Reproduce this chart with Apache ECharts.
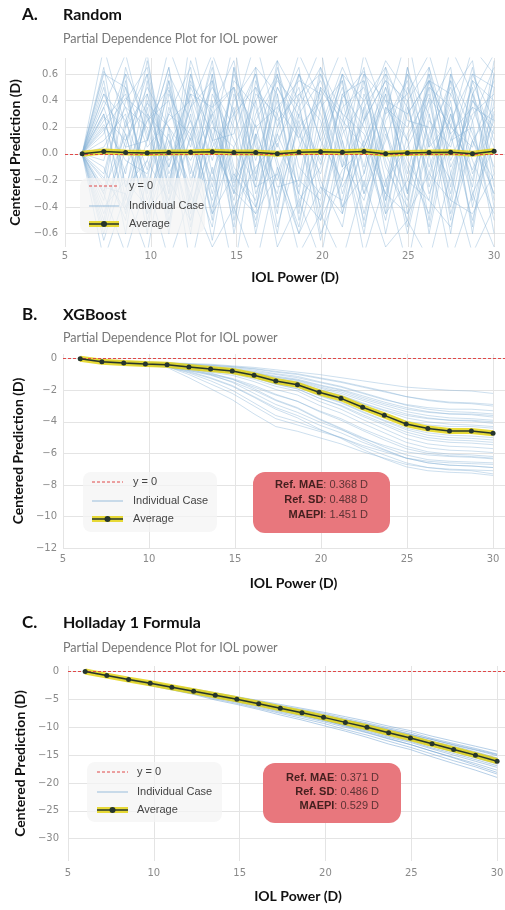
<!DOCTYPE html>
<html>
<head>
<meta charset="utf-8">
<script src="https://cdn.jsdelivr.net/npm/echarts/dist/echarts.min.js"></script>
<style>
	html, body { margin: 0; padding: 0; background: #fff; }
	#chart { width: 505px; height: 910px; }
</style>
</head>
<body>
<div id="chart"></div>
<script>
// IOL power grid shared by all three panels
const iolPower = [6.00, 7.26, 8.53, 9.79, 11.05, 12.32, 13.58, 14.84, 16.11, 17.37,
	18.63, 19.89, 21.16, 22.42, 23.68, 24.95, 26.21, 27.47, 28.74, 30.00];
const xTicks = [5, 10, 15, 20, 25, 30];
const yTicksRandom = [-0.6, -0.4, -0.2, 0, 0.2, 0.4, 0.6];
const yTicksXgb = [-12, -10, -8, -6, -4, -2, 0];
const yTicksHolladay = [-30, -25, -20, -15, -10, -5, 0];

const randomAverage = [0, 0.017, 0.01, 0.007, 0.01, 0.012, 0.015, 0.01, 0.01, 0, 0.012, 0.015, 0.012, 0.017, 0, 0.007, 0.01, 0.012, 0, 0.02];
const randomCases = [
	[0, 0.62, 0.35, -0.12, 0.48, 0.05, 0.7, -0.3, 0.22, -0.45, 0.6, 0.1, -0.2, 0.55, -0.35, 0.4, 0.65, -0.1, 0.3, 0.45],
	[0, -0.55, 0.2, 0.45, -0.3, 0.6, -0.15, 0.35, -0.6, 0.15, -0.25, 0.5, 0.3, -0.45, 0.2, -0.6, 0.1, 0.55, -0.3, 0.05],
	[0, 0.3, -0.4, 0.1, 0.65, -0.2, 0.25, -0.55, 0.4, 0.7, -0.35, -0.1, 0.6, 0.05, -0.5, 0.35, -0.2, 0.45, 0.7, -0.25],
	[0, -0.2, 0.55, -0.35, 0.15, -0.6, 0.45, 0.1, -0.25, 0.5, 0.2, -0.65, 0.15, 0.4, 0.65, -0.3, 0.5, -0.45, 0.1, 0.35],
	[0, 0.45, 0.05, 0.6, -0.45, 0.3, -0.5, 0.65, 0.05, -0.3, 0.45, 0.25, -0.4, -0.15, 0.5, 0.1, -0.55, 0.3, -0.2, 0.6],
	[0, -0.65, -0.1, 0.25, 0.4, -0.35, 0.6, -0.2, 0.5, -0.1, -0.55, 0.35, 0.55, -0.3, 0.1, 0.6, 0.3, -0.6, 0.45, -0.4],
	[0, 0.15, 0.6, -0.5, 0.05, 0.45, -0.05, 0.5, -0.4, 0.3, 0.65, -0.45, 0.2, 0.6, -0.1, -0.4, 0.55, 0.15, -0.5, 0.2],
	[0, -0.35, 0.4, 0.65, -0.15, 0.2, -0.65, 0.25, 0.6, -0.55, 0.05, 0.4, -0.3, 0.25, 0.55, -0.05, -0.35, 0.6, 0.25, -0.6],
	[0, 0.5, -0.25, -0.05, 0.55, -0.45, 0.35, 0.7, -0.15, 0.4, -0.3, 0.6, 0.05, -0.6, 0.35, 0.2, 0.6, -0.25, 0.55, 0.1],
	[0, -0.1, -0.5, 0.35, -0.55, 0.5, 0.15, -0.35, 0.3, 0.6, -0.1, -0.3, 0.45, 0.2, -0.25, 0.65, -0.1, 0.35, -0.55, 0.5],
	[0, 0.25, 0.45, -0.25, 0.3, 0.65, -0.4, 0.05, -0.5, 0.2, 0.5, -0.2, -0.55, 0.35, 0.6, -0.45, 0.25, 0.05, 0.65, -0.15],
	[0, -0.45, 0.1, 0.5, 0.2, -0.25, 0.55, -0.6, 0.15, -0.2, 0.35, 0.65, -0.05, -0.35, 0.3, 0.45, -0.6, 0.2, 0.05, 0.55],
	[0, 0.35, -0.15, 0.7, -0.1, 0.35, -0.3, 0.4, 0.65, -0.4, 0.25, -0.5, 0.35, 0.5, -0.2, 0.05, 0.4, -0.35, 0.6, 0.25],
	[0, 0.1, 0.3, -0.6, 0.45, 0.1, 0.65, -0.1, -0.35, 0.45, -0.5, 0.15, 0.6, -0.15, 0.45, -0.55, 0.15, 0.5, -0.05, -0.45],
	[0, -0.3, 0.65, 0.15, -0.4, 0.55, 0.05, 0.3, -0.2, 0.65, 0.1, -0.4, 0.25, 0.65, -0.45, 0.3, 0.55, -0.15, 0.4, 0.15],
	[0, 0.55, -0.35, 0.3, 0.1, -0.5, 0.4, -0.45, 0.55, 0.05, 0.6, 0.3, -0.25, 0.1, 0.5, -0.2, 0.35, 0.65, -0.4, 0.3],
	[0, -0.5, 0.25, -0.2, 0.6, 0.25, -0.2, 0.6, 0.1, -0.6, 0.3, 0.55, 0.1, -0.5, 0.25, 0.55, -0.3, 0.1, 0.5, -0.35],
	[0, 0.2, -0.6, 0.4, -0.25, 0.7, 0.25, -0.25, 0.45, 0.3, -0.4, 0.2, 0.65, 0.3, -0.6, 0.15, 0.45, -0.5, 0.25, 0.65],
	[0, 0.4, 0.15, -0.45, 0.35, -0.1, -0.55, 0.45, -0.05, 0.5, 0.15, -0.15, 0.4, -0.25, 0.6, 0.35, -0.15, 0.4, -0.6, 0.4],
	[0, -0.25, -0.3, 0.55, -0.5, 0.15, 0.5, 0.2, -0.55, 0.35, 0.55, 0.45, -0.45, 0.45, 0.0, -0.35, 0.6, -0.05, 0.35, -0.1],
	[0, 0.6, 0.5, 0.05, 0.25, 0.4, -0.25, 0.55, 0.35, -0.25, -0.2, 0.65, 0.3, 0.15, -0.3, 0.5, 0.05, 0.25, 0.6, 0.5],
	[0, -0.4, -0.2, -0.4, 0.1, -0.3, 0.3, -0.4, -0.1, 0.1, 0.4, -0.6, -0.2, 0.6, 0.4, -0.1, -0.45, 0.55, 0.15, -0.3],
	[0, 0.05, 0.35, 0.2, -0.35, 0.6, 0.1, 0.15, 0.6, -0.05, -0.6, 0.05, 0.5, -0.1, 0.65, 0.25, 0.2, -0.4, 0.4, 0.2],
	[0, -0.15, 0.5, -0.3, 0.55, -0.15, 0.6, -0.5, 0.25, 0.55, 0.35, -0.25, -0.35, 0.35, -0.4, 0.6, -0.25, 0.3, -0.35, 0.6],
	[0, 0.3, -0.45, 0.45, -0.05, 0.25, -0.45, 0.65, -0.3, 0.15, 0.6, 0.1, 0.55, -0.55, 0.15, -0.3, 0.65, 0.1, 0.2, -0.5],
	[0, -0.6, 0.05, 0.1, 0.65, -0.55, 0.2, 0.05, 0.4, -0.35, 0.2, 0.4, -0.1, 0.25, 0.55, 0.4, -0.5, 0.6, -0.15, 0.25],
	[0, 0.45, 0.25, 0.6, -0.2, 0.35, 0.55, -0.15, -0.45, 0.6, -0.2, -0.35, 0.45, 0.55, -0.05, -0.5, 0.3, -0.3, 0.55, 0.4],
	[0, 0.22, -0.05, -0.15, 0.3, 0.15, -0.35, 0.3, 0.5, 0.25, 0.45, 0.6, 0.2, -0.3, 0.35, 0.1, 0.5, 0.35, -0.25, 0.7],
	[0, -0.05, 0.6, 0.3, -0.6, 0.45, 0.35, 0.5, -0.25, -0.15, 0.3, -0.05, 0.6, 0.4, -0.35, 0.65, 0.1, -0.2, 0.45, 0.05],
	[0, 0.65, -0.25, 0.25, 0.5, -0.4, 0.1, -0.3, 0.65, 0.45, -0.45, 0.5, -0.4, 0.05, 0.45, -0.15, 0.55, 0.45, 0.1, -0.2],
	[0, 0.8, 0.2, 0.75, -0.3, 0.9, 0.1, 0.85, -0.2, 0.7, 0.4, 0.8, -0.1, 0.75, 0.3, 0.9, 0.05, 0.8, 0.45, 0.75],
	[0, -0.8, -0.3, -0.75, 0.2, -0.85, -0.1, -0.9, 0.15, -0.7, -0.35, -0.8, 0.1, -0.75, -0.2, -0.85, 0.0, -0.8, -0.3, -0.7],
	[0, 0.35, 0.75, 0.1, 0.8, 0.35, 0.75, 0.3, 0.85, 0.2, 0.75, 0.4, 0.8, 0.25, 0.7, 0.45, 0.75, 0.2, 0.8, 0.6],
	[0, -0.3, -0.75, -0.2, -0.8, -0.3, -0.7, -0.4, -0.85, -0.1, -0.75, -0.45, -0.8, -0.2, -0.7, -0.5, -0.8, -0.15, -0.75, -0.4],
	[0, 0.18, 0.42, 0.28, -0.1, 0.52, 0.32, -0.22, 0.12, 0.58, 0.28, -0.08, 0.42, 0.62, 0.18, -0.28, 0.42, 0.22, -0.12, 0.32],
	[0, -0.18, -0.42, -0.05, -0.35, 0.12, -0.45, -0.15, -0.4, 0.08, -0.3, -0.5, -0.12, 0.05, -0.45, -0.2, -0.35, -0.55, 0.1, -0.3],
	[0, 0.28, 0.1, 0.38, 0.2, -0.05, 0.3, 0.5, 0.2, 0.35, 0.12, 0.48, 0.25, 0.05, 0.4, 0.3, 0.55, 0.15, 0.35, 0.25],
	[0, -0.28, 0.15, -0.45, -0.2, -0.5, 0.05, -0.28, -0.45, -0.15, -0.6, -0.25, -0.45, 0.1, -0.3, -0.45, -0.15, -0.35, -0.45, -0.15]
];

const xgbAverage = [0, -0.19, -0.27, -0.34, -0.38, -0.53, -0.65, -0.78, -1.05, -1.41, -1.65, -2.13, -2.51, -3.08, -3.59, -4.14, -4.43, -4.58, -4.58, -4.73];
const xgbCases = [
	[0, -0.1, -0.15, -0.2, -0.25, -0.3, -0.35, -0.45, -0.55, -0.7, -0.85, -1.0, -1.2, -1.4, -1.6, -1.8, -1.9, -2.0, -2.05, -2.2],
	[0, -0.12, -0.18, -0.22, -0.27, -0.35, -0.42, -0.5, -0.65, -0.85, -1.0, -1.25, -1.5, -1.8, -2.1, -2.4, -2.6, -2.75, -2.8, -2.9],
	[0, -0.15, -0.2, -0.25, -0.3, -0.4, -0.5, -0.6, -0.8, -1.0, -1.2, -1.5, -1.8, -2.2, -2.6, -2.9, -3.1, -3.2, -3.2, -3.3],
	[0, -0.18, -0.25, -0.3, -0.33, -0.45, -0.55, -0.7, -0.9, -1.15, -1.35, -1.7, -2.0, -2.45, -2.85, -3.2, -3.4, -3.5, -3.5, -3.6],
	[0, -0.2, -0.27, -0.32, -0.36, -0.5, -0.6, -0.75, -1.0, -1.3, -1.5, -1.95, -2.3, -2.8, -3.25, -3.6, -3.8, -3.9, -3.9, -4.0],
	[0, -0.19, -0.26, -0.33, -0.37, -0.5, -0.62, -0.76, -1.02, -1.35, -1.58, -2.05, -2.42, -2.95, -3.45, -3.95, -4.2, -4.3, -4.3, -4.4],
	[0, -0.2, -0.28, -0.35, -0.4, -0.55, -0.68, -0.82, -1.1, -1.45, -1.7, -2.2, -2.6, -3.2, -3.7, -4.2, -4.5, -4.65, -4.7, -4.8],
	[0, -0.21, -0.29, -0.36, -0.41, -0.57, -0.7, -0.85, -1.15, -1.55, -1.8, -2.35, -2.8, -3.4, -3.95, -4.5, -4.85, -5.0, -5.05, -5.15],
	[0, -0.22, -0.3, -0.37, -0.42, -0.6, -0.75, -0.9, -1.2, -1.6, -1.9, -2.5, -3.0, -3.65, -4.2, -4.8, -5.15, -5.3, -5.35, -5.45],
	[0, -0.22, -0.31, -0.38, -0.43, -0.62, -0.78, -0.95, -1.3, -1.75, -2.05, -2.7, -3.2, -3.85, -4.45, -5.05, -5.4, -5.55, -5.6, -5.7],
	[0, -0.23, -0.32, -0.4, -0.45, -0.65, -0.85, -1.05, -1.45, -1.95, -2.3, -2.95, -3.45, -4.1, -4.7, -5.3, -5.65, -5.8, -5.85, -5.95],
	[0, -0.25, -0.33, -0.42, -0.5, -0.75, -1.0, -1.3, -1.8, -2.3, -2.7, -3.3, -3.8, -4.45, -5.0, -5.55, -5.9, -6.05, -6.1, -6.2],
	[0, -0.2, -0.3, -0.4, -0.5, -1.0, -1.6, -2.2, -3.0, -3.8, -4.2, -4.6, -5.0, -5.5, -5.9, -6.3, -6.5, -6.6, -6.65, -6.7],
	[0, -0.22, -0.32, -0.42, -0.55, -1.2, -1.9, -2.6, -3.5, -4.3, -4.6, -5.0, -5.4, -5.9, -6.3, -6.7, -6.9, -7.0, -7.05, -7.1],
	[0, -0.2, -0.3, -0.4, -0.48, -0.8, -1.2, -1.7, -2.4, -3.1, -3.6, -4.2, -4.7, -5.3, -5.8, -6.3, -6.6, -6.75, -6.8, -6.9],
	[0, -0.24, -0.34, -0.43, -0.5, -0.9, -1.4, -2.0, -2.8, -3.6, -4.0, -4.5, -5.0, -5.6, -6.1, -6.6, -6.9, -7.05, -7.1, -7.3],
	[0, -0.18, -0.26, -0.32, -0.38, -0.6, -0.9, -1.3, -1.9, -2.6, -3.1, -3.8, -4.4, -5.0, -5.6, -6.1, -6.4, -6.5, -6.55, -6.6],
	[0, -0.2, -0.28, -0.35, -0.4, -0.65, -1.0, -1.5, -2.2, -2.9, -3.4, -4.0, -4.5, -5.05, -5.5, -5.9, -6.1, -6.2, -6.25, -6.35],
	[0, -0.15, -0.22, -0.28, -0.32, -0.42, -0.52, -0.65, -0.85, -1.1, -1.3, -1.65, -1.95, -2.35, -2.75, -3.1, -3.35, -3.5, -3.55, -3.7],
	[0, -0.17, -0.24, -0.3, -0.35, -0.46, -0.57, -0.7, -0.95, -1.25, -1.45, -1.85, -2.2, -2.65, -3.1, -3.5, -3.75, -3.9, -3.95, -4.1],
	[0, -0.19, -0.27, -0.34, -0.38, -0.52, -0.64, -0.8, -1.08, -1.42, -1.65, -2.15, -2.55, -3.1, -3.6, -4.1, -4.35, -4.5, -4.55, -4.65],
	[0, -0.2, -0.28, -0.35, -0.39, -0.54, -0.66, -0.8, -1.1, -1.5, -1.75, -2.3, -2.75, -3.35, -3.9, -4.4, -4.7, -4.85, -4.9, -5.0],
	[0, -0.21, -0.3, -0.37, -0.42, -0.58, -0.72, -0.88, -1.2, -1.62, -1.92, -2.5, -2.95, -3.55, -4.1, -4.65, -5.0, -5.15, -5.2, -5.3],
	[0, -0.14, -0.2, -0.24, -0.28, -0.36, -0.44, -0.55, -0.72, -0.95, -1.12, -1.45, -1.75, -2.15, -2.55, -2.95, -3.2, -3.35, -3.4, -3.5],
	[0, -0.13, -0.19, -0.23, -0.27, -0.34, -0.4, -0.5, -0.62, -0.8, -0.95, -1.2, -1.45, -1.75, -2.05, -2.4, -2.65, -2.8, -2.85, -3.0],
	[0, -0.22, -0.32, -0.4, -0.46, -0.7, -0.95, -1.25, -1.7, -2.25, -2.7, -3.35, -3.9, -4.55, -5.15, -5.7, -6.0, -6.15, -6.2, -6.3],
	[0, -0.23, -0.33, -0.41, -0.48, -0.75, -1.05, -1.45, -2.0, -2.65, -3.15, -3.85, -4.45, -5.15, -5.75, -6.3, -6.6, -6.75, -6.8, -6.9],
	[0, -0.24, -0.35, -0.44, -0.52, -0.85, -1.25, -1.75, -2.45, -3.2, -3.75, -4.45, -5.05, -5.75, -6.35, -6.85, -7.1, -7.2, -7.25, -7.4],
	[0, -0.19, -0.27, -0.33, -0.38, -0.5, -0.6, -0.74, -0.98, -1.3, -1.52, -1.98, -2.35, -2.85, -3.3, -3.75, -4.0, -4.15, -4.2, -4.3],
	[0, -0.16, -0.23, -0.29, -0.33, -0.44, -0.55, -0.68, -0.9, -1.18, -1.38, -1.78, -2.1, -2.55, -2.95, -3.35, -3.6, -3.75, -3.8, -3.9]
];

const holladayAverage = [0, -0.72, -1.44, -2.1, -2.82, -3.54, -4.26, -4.98, -5.76, -6.6, -7.38, -8.22, -9.12, -10.0, -10.98, -11.94, -12.96, -13.98, -15.0, -16.08];
const holladayCases = [
	[0, -0.6, -1.3, -1.9, -2.5, -3.1, -3.8, -4.5, -5.2, -5.9, -6.6, -7.3, -8.1, -8.9, -9.8, -10.6, -11.6, -12.5, -13.4, -14.3],
	[0, -0.6, -1.3, -1.9, -2.6, -3.2, -4.0, -4.6, -5.3, -6.1, -6.8, -7.5, -8.4, -9.2, -10.1, -10.9, -12.0, -12.9, -13.8, -14.8],
	[0, -0.7, -1.3, -2.0, -2.6, -3.3, -4.0, -4.7, -5.5, -6.2, -7.0, -7.7, -8.6, -9.4, -10.3, -11.2, -12.2, -13.2, -14.1, -15.1],
	[0, -0.7, -1.4, -2.1, -2.8, -3.5, -4.2, -4.9, -5.7, -6.4, -7.1, -7.9, -8.7, -9.5, -10.4, -11.3, -12.2, -13.1, -14.0, -14.9],
	[0, -0.7, -1.3, -2.0, -2.7, -3.4, -4.1, -4.8, -5.6, -6.3, -7.1, -7.9, -8.7, -9.6, -10.6, -11.4, -12.5, -13.4, -14.4, -15.5],
	[0, -0.7, -1.4, -2.0, -2.7, -3.4, -4.2, -4.9, -5.6, -6.4, -7.2, -8.0, -8.8, -9.7, -10.7, -11.5, -12.6, -13.6, -14.6, -15.6],
	[0, -0.7, -1.4, -2.1, -2.7, -3.4, -4.2, -4.9, -5.7, -6.5, -7.3, -8.0, -8.9, -9.8, -10.8, -11.7, -12.7, -13.7, -14.7, -15.8],
	[0, -0.7, -1.4, -2.1, -2.8, -3.5, -4.3, -5.0, -5.7, -6.5, -7.3, -8.1, -9.0, -9.9, -10.9, -11.8, -12.9, -13.9, -14.9, -15.9],
	[0, -0.7, -1.4, -2.1, -2.8, -3.5, -4.3, -5.1, -5.9, -6.7, -7.5, -8.3, -9.2, -10.1, -11.1, -12.0, -13.1, -14.1, -15.2, -16.3],
	[0, -0.7, -1.4, -2.1, -2.9, -3.6, -4.4, -5.1, -5.9, -6.7, -7.5, -8.4, -9.3, -10.2, -11.2, -12.1, -13.3, -14.3, -15.3, -16.4],
	[0, -0.7, -1.4, -2.2, -2.9, -3.6, -4.4, -5.2, -6.0, -6.8, -7.6, -8.4, -9.4, -10.3, -11.3, -12.3, -13.4, -14.4, -15.5, -16.6],
	[0, -0.7, -1.5, -2.2, -2.9, -3.7, -4.5, -5.3, -6.1, -6.9, -7.8, -8.6, -9.6, -10.5, -11.6, -12.5, -13.7, -14.7, -15.8, -16.9],
	[0, -0.7, -1.5, -2.2, -3.0, -3.7, -4.6, -5.4, -6.2, -7.1, -7.9, -8.8, -9.7, -10.7, -11.8, -12.7, -13.9, -15.0, -16.1, -17.2],
	[0, -0.8, -1.5, -2.3, -3.1, -3.9, -4.7, -5.5, -6.4, -7.3, -8.1, -9.0, -10.0, -11.0, -12.1, -13.1, -14.3, -15.4, -16.5, -17.7],
	[0, -0.7, -1.4, -2.1, -2.8, -3.6, -4.4, -5.2, -6.0, -6.9, -7.8, -8.7, -9.8, -10.9, -12.0, -13.1, -14.3, -15.5, -16.8, -18.1],
	[0, -0.8, -1.6, -2.4, -3.2, -4.0, -4.9, -5.7, -6.6, -7.5, -8.4, -9.3, -10.4, -11.4, -12.5, -13.6, -14.8, -16.0, -17.1, -18.4],
	[0, -0.8, -1.7, -2.5, -3.3, -4.1, -5.1, -5.9, -6.8, -7.8, -8.7, -9.7, -10.7, -11.8, -13.0, -14.0, -15.3, -16.5, -17.7, -19.0],
	[0, -0.7, -1.4, -2.1, -2.8, -3.5, -4.2, -5.0, -5.8, -6.6, -7.4, -8.2, -9.1, -10.0, -11.0, -11.9, -12.9, -13.9, -14.9, -15.7],
	[0, -0.7, -1.4, -2.1, -2.8, -3.5, -4.3, -5.0, -5.8, -6.6, -7.4, -8.2, -9.1, -10.0, -11.0, -12.0, -13.0, -14.1, -15.1, -16.2],
	[0, -0.7, -1.4, -2.1, -2.8, -3.5, -4.2, -4.9, -5.7, -6.5, -7.3, -8.1, -9.0, -9.9, -10.8, -11.8, -12.8, -13.8, -14.8, -15.9]
];

const panelTitles = ['Random', 'XGBoost', 'Holladay 1 Formula'];
const panelLetters = ['A.', 'B.', 'C.'];
const subtitle = 'Partial Dependence Plot for IOL power';
const legendLabels = ['y = 0', 'Individual Case', 'Average'];
const statLabels = ['Ref. MAE', 'Ref. SD', 'MAEPI'];
const xgbStats = ['0.368 D', '0.488 D', '1.451 D'];
const holladayStats = ['0.371 D', '0.486 D', '0.529 D'];

const CASE_COLOR = 'rgba(135,178,214,0.42)';
const BAND_COLOR = 'rgba(228,212,20,0.85)';
const AVG_COLOR = '#26352d';
const TICK_FONT = { color: '#8a8a8a', fontFamily: 'DejaVu Sans', fontSize: 10 };
const NAME_FONT = { color: '#111', fontFamily: 'Lato', fontWeight: 'bold', fontSize: 14 };
const TOP = 50;

let minus = s => String(s).replace('-', '\u2212');
let onTick = (ticks, v) => ticks.some(t => Math.abs(t - v) < 1e-6);
let toPoints = arr => arr.map((v, i) => [iolPower[i], v]);

function panelSeries(idx, cases, avg, yTicks, caseColor) {
	let base = { type: 'line', xAxisIndex: idx, yAxisIndex: idx, silent: true, symbol: 'none' };
	let list = [];
	// light gridlines at the labelled ticks
	list.push(Object.assign({}, base, {
		data: [[xTicks[0], yTicks[0]]], lineStyle: { opacity: 0 },
		markLine: { silent: true, symbol: 'none', z: 1, animation: false,
			label: { show: false },
			lineStyle: { color: '#e4e4e4', width: 1, type: 'solid' },
			data: xTicks.map(v => ({ xAxis: v })).concat(yTicks.map(v => ({ yAxis: v }))) }
	}));
	cases.forEach(c => list.push(Object.assign({}, base, {
		data: toPoints(c), z: 2, lineStyle: { color: caseColor, width: 1 }
	})));
	list.push(Object.assign({}, base, {
		name: 'Average band', data: toPoints(avg), z: 3,
		lineStyle: { color: BAND_COLOR, width: 6 }
	}));
	list.push(Object.assign({}, base, {
		name: 'y = 0', data: [[xTicks[0], 0]], lineStyle: { opacity: 0 },
		markLine: { silent: true, symbol: 'none', z: 4, animation: false,
			label: { show: false },
			lineStyle: { color: '#e04848', width: 1, type: [3, 2] },
			data: [{ yAxis: 0 }] }
	}));
	list.push(Object.assign({}, base, {
		name: 'Average', data: toPoints(avg), z: 5,
		symbol: 'circle', symbolSize: 5, showSymbol: true,
		itemStyle: { color: AVG_COLOR },
		lineStyle: { color: AVG_COLOR, width: 1.5 }
	}));
	return list;
}

function xAxisOf(idx, margin, gap) {
	return {
		type: 'value', gridIndex: idx, min: 5, max: 31.8, interval: 5,
		axisLine: { show: false }, axisTick: { show: false }, splitLine: { show: false },
		axisLabel: Object.assign({ margin: margin, formatter: v => onTick(xTicks, v) ? String(v) : '' }, TICK_FONT),
		name: 'IOL Power (D)', nameLocation: 'middle', nameGap: gap, nameTextStyle: NAME_FONT
	};
}

function yAxisOf(idx, min, max, interval, yTicks, fmt, margin, gap) {
	return {
		type: 'value', gridIndex: idx, min: min, max: max, interval: interval,
		axisLine: { show: false }, axisTick: { show: false }, splitLine: { show: false },
		axisLabel: Object.assign({ margin: margin, formatter: v => onTick(yTicks, v) ? minus(fmt(v)) : '' }, TICK_FONT),
		name: 'Centered Prediction (D)', nameLocation: 'middle', nameGap: gap, nameTextStyle: NAME_FONT
	};
}

function headerGraphics(letterY, subY, i) {
	return [
		{ type: 'text', x: 22, y: letterY, silent: true, z: TOP,
			style: { text: panelLetters[i], fontFamily: 'Lato', fontWeight: 'bold', fontSize: 17, fill: '#111', verticalAlign: 'middle' } },
		{ type: 'text', x: 63, y: letterY, silent: true, z: TOP,
			style: { text: panelTitles[i], fontFamily: 'Lato', fontWeight: 'bold', fontSize: 16, fill: '#111', verticalAlign: 'middle' } },
		{ type: 'text', x: 63, y: subY, silent: true, z: TOP,
			style: { text: subtitle, fontFamily: 'Lato', fontSize: 12.6, fill: '#777', verticalAlign: 'middle' } }
	];
}

function legendGraphics(box, x0, x1, rows, textX) {
	let mid = (x0 + x1) / 2;
	let els = [
		{ type: 'rect', silent: true, z: TOP, shape: { x: box[0], y: box[1], width: box[2], height: box[3], r: 8 },
			style: { fill: 'rgba(244,244,244,0.72)' } },
		{ type: 'line', silent: true, z: TOP, shape: { x1: x0, y1: rows[0], x2: x1, y2: rows[0] },
			style: { stroke: '#e04848', lineWidth: 1, lineDash: [3, 2] } },
		{ type: 'line', silent: true, z: TOP, shape: { x1: x0, y1: rows[1], x2: x1, y2: rows[1] },
			style: { stroke: 'rgba(130,175,212,0.8)', lineWidth: 1 } },
		{ type: 'line', silent: true, z: TOP, shape: { x1: x0, y1: rows[2], x2: x1, y2: rows[2] },
			style: { stroke: BAND_COLOR, lineWidth: 6 } },
		{ type: 'line', silent: true, z: TOP, shape: { x1: x0, y1: rows[2], x2: x1, y2: rows[2] },
			style: { stroke: AVG_COLOR, lineWidth: 1.5 } },
		{ type: 'circle', silent: true, z: TOP, shape: { cx: mid, cy: rows[2], r: 3 }, style: { fill: AVG_COLOR } }
	];
	legendLabels.forEach((t, i) => els.push({ type: 'text', x: textX, y: rows[i], silent: true, z: TOP,
		style: { text: t, fontFamily: 'Liberation Sans', fontSize: 11, fill: '#444', verticalAlign: 'middle' } }));
	return els;
}

function statGraphics(box, textRight, rows, values) {
	let els = [{ type: 'rect', silent: true, z: TOP,
		shape: { x: box[0], y: box[1], width: box[2], height: box[3], r: 12 },
		style: { fill: '#e8777d' } }];
	statLabels.forEach((lab, i) => els.push({ type: 'text', x: textRight, y: rows[i], silent: true, z: TOP,
		style: {
			text: '{b|' + lab + '}{v|: ' + values[i] + '}', align: 'right', verticalAlign: 'middle',
			rich: {
				b: { fontFamily: 'Liberation Sans', fontWeight: 'bold', fontSize: 11, fill: '#45201f' },
				v: { fontFamily: 'Liberation Sans', fontSize: 11, fill: '#5e3335' }
			}
		} }));
	return els;
}

let chart = echarts.init(document.getElementById('chart'), null, { renderer: 'canvas' });

chart.setOption({
	animation: false,
	backgroundColor: '#fff',
	grid: [
		{ left: 65, top: 58, width: 460, height: 189, outerBoundsMode: 'none' },
		{ left: 63, top: 354, width: 461, height: 194, outerBoundsMode: 'none' },
		{ left: 68, top: 666, width: 460, height: 195, outerBoundsMode: 'none' }
	],
	xAxis: [xAxisOf(0, 4, 23), xAxisOf(1, 6, 28), xAxisOf(2, 7, 28)],
	yAxis: [
		yAxisOf(0, -0.7, 0.72, 0.1, yTicksRandom, v => v.toFixed(1), 7, 38),
		yAxisOf(1, -12, 0.3, 2, yTicksXgb, v => String(v), 6, 36),
		yAxisOf(2, -34, 1, 1, yTicksHolladay, v => String(v), 9, 40)
	],
	series: [].concat(
		panelSeries(0, randomCases, randomAverage, yTicksRandom, CASE_COLOR),
		panelSeries(1, xgbCases, xgbAverage, yTicksXgb, CASE_COLOR),
		panelSeries(2, holladayCases, holladayAverage, yTicksHolladay, 'rgba(110,160,208,0.5)')
	),
	graphic: [].concat(
		headerGraphics(15, 39, 0),
		headerGraphics(315, 338, 1),
		headerGraphics(623, 648, 2),
		legendGraphics([80, 178, 125, 55], 89, 119, [186, 206, 224], 129),
		legendGraphics([83, 472, 134, 60], 92, 123, [482, 501, 519], 133),
		legendGraphics([87, 762, 135, 60], 97, 128, [772, 792, 810], 137),
		statGraphics([253, 472, 137, 61], 368, [485, 500, 515], xgbStats),
		statGraphics([263, 763, 138, 60], 379, [778, 792, 806], holladayStats)
	)
});
</script>
</body>
</html>
